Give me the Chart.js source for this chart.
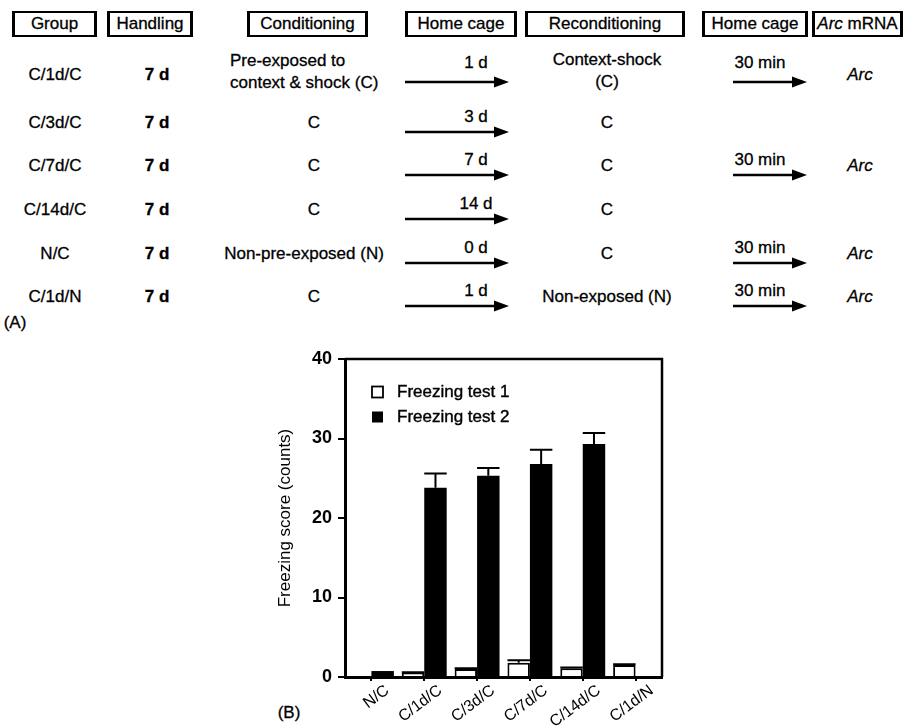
<!DOCTYPE html>
<html><head><meta charset="utf-8">
<script src="https://cdn.jsdelivr.net/npm/chart.js@4.4.1/dist/chart.umd.min.js"></script>
<style>
html,body{margin:0;padding:0;background:#fff;}
body{width:906px;height:726px;position:relative;overflow:hidden;font-family:"Liberation Sans",Arial,Helvetica,sans-serif;color:#000;}
#tbl{position:absolute;left:0;top:0;width:906px;height:340px;}
#arrows{position:absolute;left:0;top:0;}
.cell{position:absolute;font-size:17px;white-space:nowrap;transform:translate(-50%,-50%);line-height:22px;text-align:center;-webkit-text-stroke:0.3px #000;}
.hdr{position:absolute;border:2px solid #000;border-left-width:3px;border-right-width:3px;box-sizing:border-box;font-size:17px;display:flex;align-items:center;justify-content:center;white-space:nowrap;-webkit-text-stroke:0.3px #000;}
#wrap{position:absolute;left:0;top:0;width:906px;height:726px;}
</style></head><body>
<div id="tbl"></div>
<svg id="arrows" width="906" height="340"></svg>
<div id="wrap"><canvas id="c" width="906" height="726"></canvas></div>
<script>
// ---------- Table (A) data ----------
const headers = ["Group","Handling","Conditioning","Home cage","Reconditioning","Home cage","Arc mRNA"];
const groups = ["C/1d/C","C/3d/C","C/7d/C","C/14d/C","N/C","C/1d/N"];
const handling = ["7 d","7 d","7 d","7 d","7 d","7 d"];
const conditioning = ["Pre-exposed to\ncontext & shock (C)","C","C","C","Non-pre-exposed (N)","C"];
const homeCage1 = ["1 d","3 d","7 d","14 d","0 d","1 d"];
const reconditioning = ["Context-shock\n(C)","C","C","C","C","Non-exposed (N)"];
const homeCage2 = ["30 min","","30 min","","30 min","30 min"];
const arcMRNA = ["Arc","","Arc","","Arc","Arc"];

// ---------- Chart (B) data ----------
const categories = ["N/C","C/1d/C","C/3d/C","C/7d/C","C/14d/C","C/1d/N"];
const seriesNames = ["Freezing test 1","Freezing test 2"];
const test1 = [null,0.5,1.0,1.8,1.1,1.5];
const test1Err = [null,0.1,0.1,0.3,0.1,0.1];
const test2 = [0.75,23.8,25.3,26.8,29.3,null];
const test2Err = [0,1.8,1.0,1.8,1.4,null];
const yTicks = [0,10,20,30,40];

// ---------- build table ----------
const T = document.getElementById('tbl');
const svg = document.getElementById('arrows');
const NS = 'http://www.w3.org/2000/svg';
const hdrBoxes = [[12,97],[107,193],[247,368],[405,517],[525,685],[702,808],[812,903]];
headers.forEach((h,i)=>{
  const d=document.createElement('div'); d.className='hdr';
  d.style.left=hdrBoxes[i][0]+'px'; d.style.width=(hdrBoxes[i][1]-hdrBoxes[i][0])+'px';
  d.style.top='11px'; d.style.height='26px';
  if(h.startsWith('Arc ')){
    const it=document.createElement('i'); it.textContent='Arc'; d.appendChild(it);
    d.appendChild(document.createTextNode('\u00a0'+h.slice(4)));
  } else d.textContent=h;
  T.appendChild(d);
});
function addText(txt,x,y,o={}){
  const d=document.createElement('div'); d.className='cell';
  d.style.left=x+'px'; d.style.top=y+'px';
  if(o.left){d.style.transform='translate(0,-50%)';d.style.textAlign='left';}
  if(o.bold) d.style.fontWeight='bold';
  if(o.italic) d.style.fontStyle='italic';
  txt.split('\n').forEach((l,i)=>{ if(i) d.appendChild(document.createElement('br')); d.appendChild(document.createTextNode(l)); });
  T.appendChild(d);
}
function arrow(x1,x2,y){
  const l=document.createElementNS(NS,'line');
  l.setAttribute('x1',x1);l.setAttribute('x2',x2-8);l.setAttribute('y1',y);l.setAttribute('y2',y);
  l.setAttribute('stroke','#000');l.setAttribute('stroke-width','2.5');svg.appendChild(l);
  const p=document.createElementNS(NS,'polygon');
  p.setAttribute('points',`${x2-15},${y-5.5} ${x2},${y} ${x2-15},${y+5.5}`);p.setAttribute('fill','#000');svg.appendChild(p);
}
const rowY=[75,123,166,210,254,297];
groups.forEach((g,i)=>{
  const y=rowY[i];
  const off = i===0?[-12,7]:[-6,9];
  addText(g,55,y);
  addText(handling[i],157,y,{bold:true});
  if(conditioning[i].includes('\n')) addText(conditioning[i],230,y-3,{left:true});
  else addText(conditioning[i],conditioning[i]==='C'?314:304,y);
  addText(homeCage1[i],476,y+off[0]);
  arrow(405,509,y+off[1]);
  addText(reconditioning[i],607,reconditioning[i].includes('\n')?y-4:y);
  if(homeCage2[i]){ addText(homeCage2[i],760,y+off[0]); arrow(733,807,y+off[1]); }
  if(arcMRNA[i]) addText(arcMRNA[i],860,y,{italic:true});
});
addText('(A)',15,323);
addText('(B)',289,713);

// ---------- chart ----------
const FONT='"Liberation Sans", Arial, sans-serif';
const errPlugin={
  id:'errbars',
  afterDatasetsDraw(chart){
    const c=chart.ctx, y=chart.scales.y;
    chart.data.datasets.forEach((ds,di)=>{
      const meta=chart.getDatasetMeta(di);
      meta.data.forEach((bar,i)=>{
        const v=ds.data[i], e=ds.err[i];
        if(v==null||!e) return;
        const yt=y.getPixelForValue(v), ye=y.getPixelForValue(v+e);
        const w=bar.width;
        c.save();c.strokeStyle='#000';c.lineWidth=2;
        c.beginPath();c.moveTo(bar.x,yt);c.lineTo(bar.x,ye);
        c.moveTo(bar.x-w/2,ye);c.lineTo(bar.x+w/2,ye);c.stroke();c.restore();
      });
    });
  }
};
const framePlugin={
  id:'frame',
  afterDraw(chart){
    const a=chart.chartArea,c=chart.ctx;
    c.save();c.strokeStyle='#000';c.lineWidth=2.5;
    c.beginPath();c.moveTo(a.left,a.top);c.lineTo(a.right,a.top);c.lineTo(a.right,a.bottom);c.stroke();
    // legend inside plot area
    c.font='17px '+FONT;c.textBaseline='middle';
    chart.data.datasets.forEach((ds,i)=>{
      const x=a.left+27, y=a.top+33+i*25;
      if(ds.backgroundColor==='#fff'){c.fillStyle='#fff';c.fillRect(x,y-5.5,11,11);c.lineWidth=1.8;c.strokeStyle='#000';c.strokeRect(x,y-5.5,11,11);}
      else {c.fillStyle='#000';c.fillRect(x,y-5.5,11,11);}
      c.fillStyle='#000';c.fillText(ds.label,x+25,y);
      c.lineWidth=0.4;c.strokeStyle='#000';c.strokeText(ds.label,x+25,y);
    });
    c.restore();
  }
};
new Chart(document.getElementById('c'),{
  type:'bar',
  data:{labels:categories,datasets:[
    {label:seriesNames[0],data:test1,err:test1Err,backgroundColor:'#fff',borderColor:'#000',borderWidth:2,borderSkipped:'bottom'},
    {label:seriesNames[1],data:test2,err:test2Err,backgroundColor:'#000',borderColor:'#000',borderWidth:0}
  ]},
  options:{
    responsive:false,animation:false,
    layout:{padding:{left:265,top:359,right:244,bottom:0}},
    datasets:{bar:{barPercentage:1.0,categoryPercentage:0.85}},
    plugins:{legend:{display:false},tooltip:{enabled:false}},
    scales:{
      x:{
        afterFit(s){s.height=49;},
        grid:{display:true,drawOnChartArea:false,drawTicks:true,tickLength:4,offset:false,color:'#000',lineWidth:2},
        border:{display:true,color:'#000',width:3},
        ticks:{autoSkip:false,minRotation:37,maxRotation:37,color:'#000',padding:0,labelOffset:16,font:{size:16,family:FONT}}
      },
      y:{
        min:yTicks[0],max:yTicks[yTicks.length-1],
        afterFit(s){s.width=80;},
        afterBuildTicks(s){s.ticks=yTicks.map(v=>({value:v}));},
        grid:{display:true,drawOnChartArea:false,drawTicks:true,tickLength:7,color:'#000',lineWidth:2},
        border:{display:true,color:'#000',width:3},
        ticks:{color:'#000',padding:6,font:{size:18,weight:'bold',family:FONT}},
        title:{display:true,text:'Freezing score (counts)',color:'#000',padding:{top:10,bottom:0},font:{size:17,family:FONT}}
      }
    }
  },
  plugins:[errPlugin,framePlugin]
});
</script>
</body></html>
